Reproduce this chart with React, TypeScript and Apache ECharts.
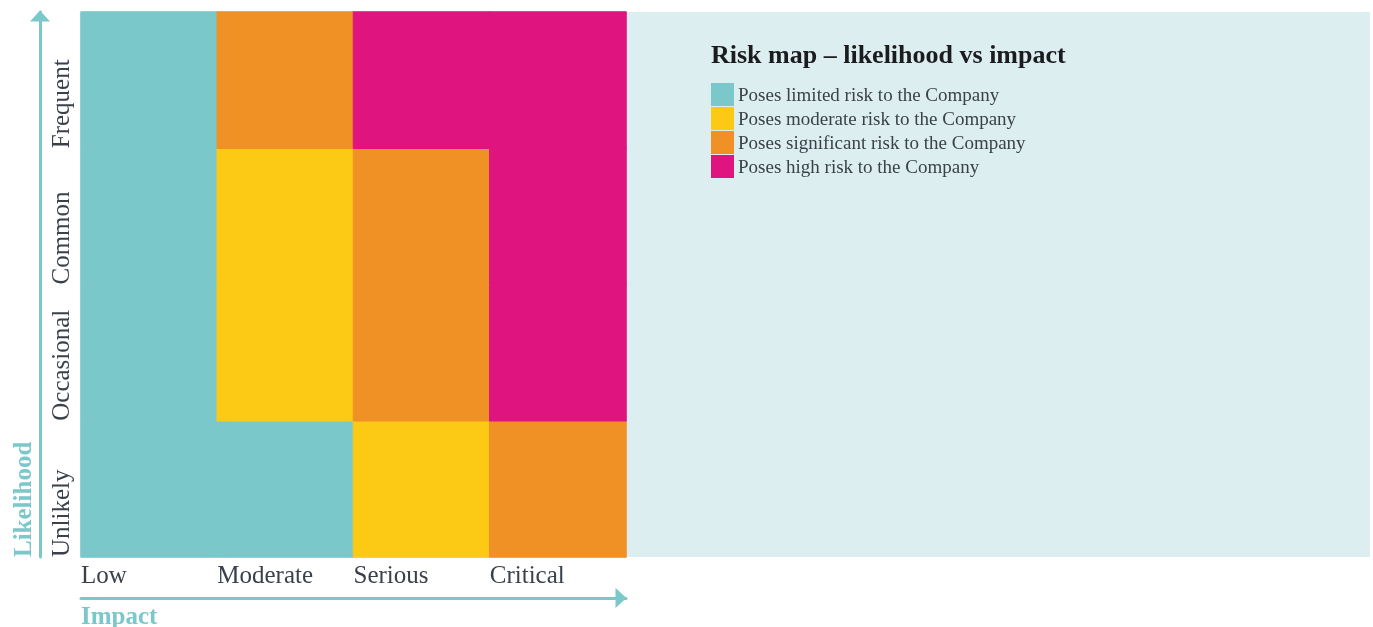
import React, { useEffect, useRef } from "react";
import * as echarts from "echarts";

const impact = ["Low", "Moderate", "Serious", "Critical"];
const likelihood = ["Unlikely", "Occasional", "Common", "Frequent"];
const riskLabels = [
  "Poses limited risk to the Company",
  "Poses moderate risk to the Company",
  "Poses significant risk to the Company",
  "Poses high risk to the Company",
];
const riskColors = ["#7bc8cb", "#fcc915", "#f09126", "#e0147f"];
// risk level per impact column (Low, Moderate, Serious, Critical)
const unlikelyRow = [0, 0, 1, 2];
const occasionalRow = [0, 1, 2, 3];
const commonRow = [0, 1, 2, 3];
const frequentRow = [0, 2, 3, 3];
const rows = [unlikelyRow, occasionalRow, commonRow, frequentRow];

const title = "Risk map – likelihood vs impact";
const xTitle = "Impact";
const yTitle = "Likelihood";

const TEAL = "#7bc8cb";
const TEXT = "#3a414b";
const FONT = "'Liberation Serif', serif";

export default function App() {
  const ref = useRef<HTMLDivElement>(null);
  useEffect(() => {
    if (!ref.current) return;
    const chart = echarts.init(ref.current, undefined, { renderer: "svg" });
    const data: any[] = [];
    rows.forEach((row, y) =>
      row.forEach((v, x) =>
        data.push({ value: [x, y, v], itemStyle: { borderColor: riskColors[v], borderWidth: 1 } })
      )
    );
    const gridLeft = 81, gridTop = 12, gridW = 545, gridH = 545;
    chart.setOption({
      animation: false,
      title: {
        text: title,
        left: 711,
        top: 41,
        padding: 0,
        textStyle: { fontFamily: FONT, fontSize: 26, fontWeight: "bold", color: "#1c1c1e" },
      },
      grid: { left: gridLeft, top: gridTop, width: gridW, height: gridH, containLabel: false, outerBoundsMode: "none" },
      xAxis: [
        { type: "category", data: impact, show: false },
        {
          type: "value", min: 0, max: 4, interval: 1, position: "bottom",
          axisLine: { show: false }, axisTick: { show: false }, splitLine: { show: false },
          axisLabel: {
            formatter: (v: number) => impact[v] ?? "",
            align: "left", verticalAlign: "top", margin: 5,
            fontFamily: FONT, fontSize: 25, color: TEXT,
          },
        },
        {
          type: "value", min: 0, max: 4, position: "bottom", offset: 41,
          axisLine: {
            show: true, symbol: ["none", "triangle"], symbolSize: [20, 11], symbolOffset: [0, -5],
            lineStyle: { color: TEAL, width: 3 },
          },
          axisTick: { show: false }, axisLabel: { show: false }, splitLine: { show: false },
        },
      ],
      yAxis: [
        { type: "category", data: likelihood, show: false },
        {
          type: "value", min: 0, max: 4, interval: 1, position: "left",
          axisLine: { show: false }, axisTick: { show: false }, splitLine: { show: false },
          axisLabel: {
            formatter: (v: number) => likelihood[v] ?? "",
            rotate: 90, align: "left", verticalAlign: "bottom", margin: 8,
            fontFamily: FONT, fontSize: 25, color: TEXT,
          },
        },
        {
          type: "value", min: 0, max: 4, position: "left", offset: 41,
          axisLine: {
            show: true, symbol: ["none", "triangle"], symbolSize: [20, 11], symbolOffset: [0, -4],
            lineStyle: { color: TEAL, width: 3 },
          },
          axisTick: { show: false }, axisLabel: { show: false }, splitLine: { show: false },
        },
      ],
      visualMap: {
        type: "piecewise",
        dimension: 2,
        seriesIndex: 0,
        orient: "vertical",
        inverse: true,
        align: "left",
        left: 711,
        top: 83,
        padding: 0,
        itemWidth: 23,
        itemHeight: 23,
        itemGap: 1,
        textGap: 4,
        itemSymbol: "rect",
        hoverLink: false,
        selectedMode: false,
        pieces: riskLabels.map((label, i) => ({ value: i, label, color: riskColors[i] })),
        textStyle: { fontFamily: FONT, fontSize: 19, color: TEXT },
      },
      graphic: [
        {
          type: "rect", z: -10, silent: true,
          shape: { x: 626, y: 12, width: 744, height: 545 },
          style: { fill: "#ddeef1" },
        },
        {
          type: "text", x: 81, y: 615,
          style: { text: xTitle, fill: TEAL, font: `bold 25px ${FONT}`, align: "left", verticalAlign: "middle" },
        },
        {
          type: "text", x: 22, y: 557, rotation: Math.PI / 2,
          style: { text: yTitle, fill: TEAL, font: `bold 25px ${FONT}`, align: "left", verticalAlign: "middle" },
        },
      ],
      series: [
        {
          type: "heatmap",
          xAxisIndex: 0,
          yAxisIndex: 0,
          data,
          emphasis: { disabled: true },
          progressive: 0,
        },
      ],
    });
    return () => chart.dispose();
  }, []);
  return <div ref={ref} style={{ position: "fixed", left: 0, top: 0, width: 1373, height: 627 }} />;
}
